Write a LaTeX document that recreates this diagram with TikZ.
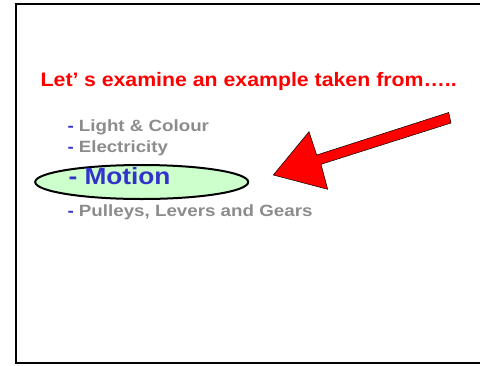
\documentclass[tikz,border=0pt]{standalone}
\usepackage{fontspec}
\setmainfont{Liberation Sans}
\usepackage{graphicx}
\usetikzlibrary{shapes.geometric}
\definecolor{itemgray}{HTML}{8C8C8C}
\definecolor{dashblue}{HTML}{3333CC}
\definecolor{ellfill}{HTML}{CCFFCC}
\tikzset{
  txt/.style={inner sep=0pt, outer sep=0pt, anchor=base west, font=\bfseries},
  item/.style={txt, text=itemgray, font=\bfseries\fontsize{16.3}{18}\selectfont},
  frame/.style={draw=black, line width=2.5pt, line join=miter},
  bigarrow/.style={fill=red, draw=black, line width=0.5pt, line join=miter},
  oval/.style={draw=black, ellipse, fill=ellfill, line width=2pt, inner sep=0pt}
}
\begin{document}
\begin{tikzpicture}[x=1pt,y=-1pt]
\useasboundingbox (0,0) rectangle (480,365);
\clip (0,0) rectangle (480,365);
\draw[frame] (485,4) -- (16,4) -- (16,363) -- (485,363);
% title
\node[txt, text=red, font=\bfseries\fontsize{19.5}{22}\selectfont] (title) at (40.7,86.3)
  {\resizebox{416pt}{\height}{Let’\hspace{5pt}s examine an example taken from…..}};
% items
\node[item] (light) at (67.5,131.5) {\resizebox{141.5pt}{\height}{{\color{dashblue}-} Light \& Colour}};
\node[item] (elec) at (67.5,152.7) {\resizebox{100.5pt}{\height}{{\color{dashblue}-} Electricity}};
\node[oval, minimum width=213pt, minimum height=34pt] (ell) at (141.7,182) {};
\node[txt, text=dashblue, font=\bfseries\fontsize{23.5}{26}\selectfont] (motion) at (68.5,184)
  {\resizebox{102pt}{\height}{- Motion}};
\node[item] (pull) at (67.5,216.7) {\resizebox{245pt}{\height}{{\color{dashblue}-} Pulleys, Levers and Gears}};
% arrow
\path[bigarrow] (448.7,112.5) -- (451,123) -- (321,164.3) -- (327.7,189.3) -- (273.3,175)
  -- (309,131.7) -- (316.7,155) -- cycle;
\end{tikzpicture}
\end{document}
